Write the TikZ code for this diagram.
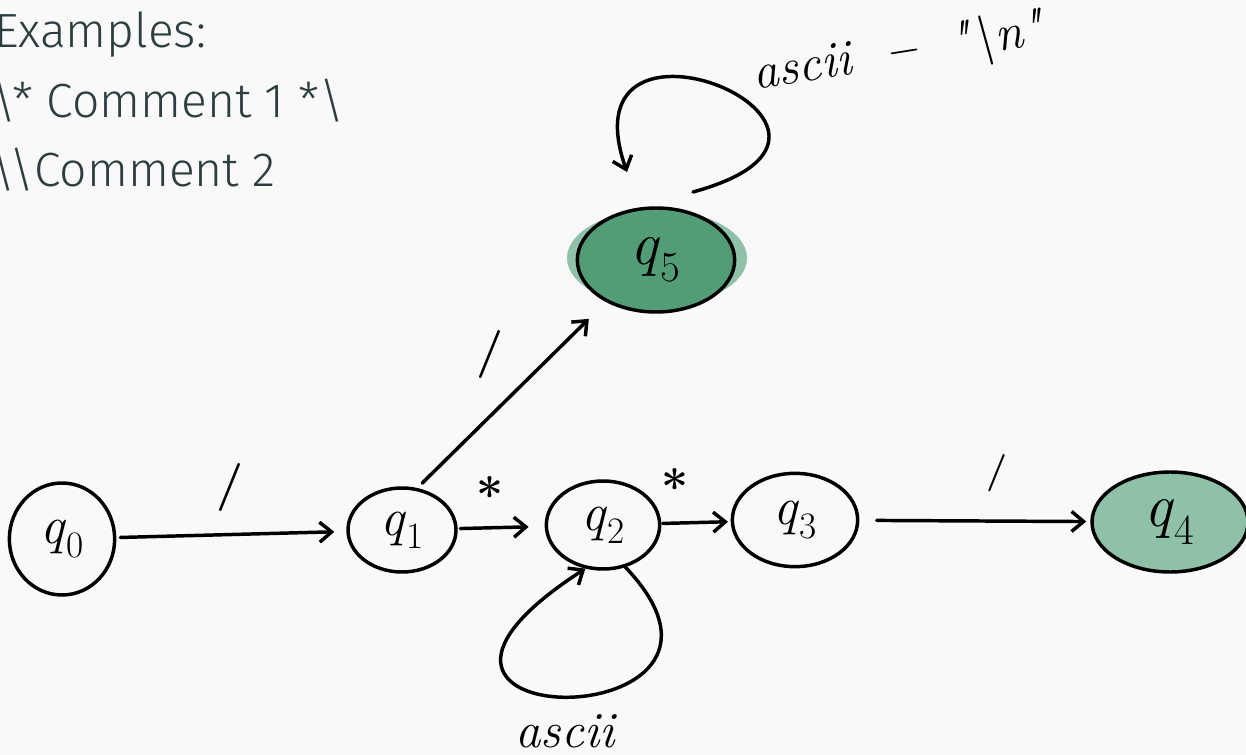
\documentclass[tikz,border=0pt]{standalone}
\usepackage{fontspec}
\newfontfamily\fira{Fira Sans}[UprightFont={* Light}]
\usetikzlibrary{arrows.meta,shapes.geometric}
\definecolor{bg}{HTML}{F9F9F9}
\definecolor{txt}{HTML}{2D3E40}
\definecolor{dgreen}{HTML}{529D75}
\definecolor{lgreen}{HTML}{8FC1A9}
\newcommand{\qlab}[1]{\textit{q}\textsubscript{#1}}
\tikzset{
  state/.style={ellipse, draw=black, line width=2.6pt, inner sep=0pt, font=\fontsize{40}{40}\selectfont},
  bigstate/.style={state, font=\fontsize{46}{46}\selectfont},
  arr/.style={line width=2.6pt, line cap=round, -{Straight Barb[length=9pt,width=15pt]}},
  lbl/.style={font=\fontsize{36}{36}\selectfont\bfseries, inner sep=0pt},
  hdr/.style={font=\fira\fontsize{36}{36}\selectfont, text=txt, anchor=base west, inner sep=0pt},
  hand/.style={font=\fontsize{38}{38}\selectfont\itshape, inner sep=0pt}
}
\begin{document}
\begin{tikzpicture}[x=0.75pt,y=-0.75pt]
\useasboundingbox[fill=bg] (0,0) rectangle (1246,755);
% header text
\node[hdr] (t1) at (-6,48) {Examples:};
\node[hdr] (t2) at (-9,118) {\textbackslash* Comment 1 *\textbackslash};
\node[hdr] (t3) at (-10,187) {\textbackslash\textbackslash Comment 2};
% accepting state halo
\node[ellipse, fill=lgreen, minimum width=135pt, minimum height=72pt, inner sep=0pt] (h5) at (657,258) {};
% states
\node[state] (q0) at (62,539) [minimum width=79pt, minimum height=84pt] {\qlab{0}};
\node[state] (q1) at (402,530) [minimum width=81pt, minimum height=63pt] {\qlab{1}};
\node[state] (q2) at (603,525) [minimum width=85pt, minimum height=66pt] {\qlab{2}};
\node[state] (q3) at (795,520) [minimum width=94pt, minimum height=70pt] {\qlab{3}};
\node[bigstate, fill=lgreen] (q4) at (1170,522) [minimum width=117pt, minimum height=75pt] {\qlab{4}};
\node[bigstate, fill=dgreen] (q5) at (656,260) [minimum width=118pt, minimum height=78pt] {\qlab{5}};
% transitions
\draw[arr, shorten <=3pt, shorten >=9pt] (q0) -- (q1);
\draw[arr, shorten <=2pt, shorten >=12pt] (q1) -- (q2);
\draw[arr, shorten <=1pt, shorten >=2pt] (q2) -- (q3);
\draw[arr, shorten <=13pt, shorten >=3pt] (q3) -- (q4);
\draw[arr, shorten <=5pt, shorten >=18pt] (q1.70) -- (q5.-140);
% self loops
\draw[arr] (q2.-62) .. controls (790,740) and (320,740) .. (q2.-112);
\coordinate (l5a) at (693,192);
\coordinate (l5b) at (627,172);
\draw[arr] (l5a) .. controls (920,130) and (560,-20) .. (l5b);
% labels
\node[lbl] (a1) at (230,487) {/};
\node[lbl] (a2) at (490,494) {*};
\node[lbl] (a3) at (675,486) {*};
\node[lbl] (a4) at (490,355) {/};
\node[lbl, font=\fontsize{28}{28}\selectfont\bfseries] (a5) at (997,473) {/};
\node[hand] (a6) at (565,731) {ascii};
\node[hand, rotate=9] (a7) at (898,54) {ascii \ \textbf{--} \ \textquotedbl\textbackslash n\textquotedbl};
\end{tikzpicture}
\end{document}
